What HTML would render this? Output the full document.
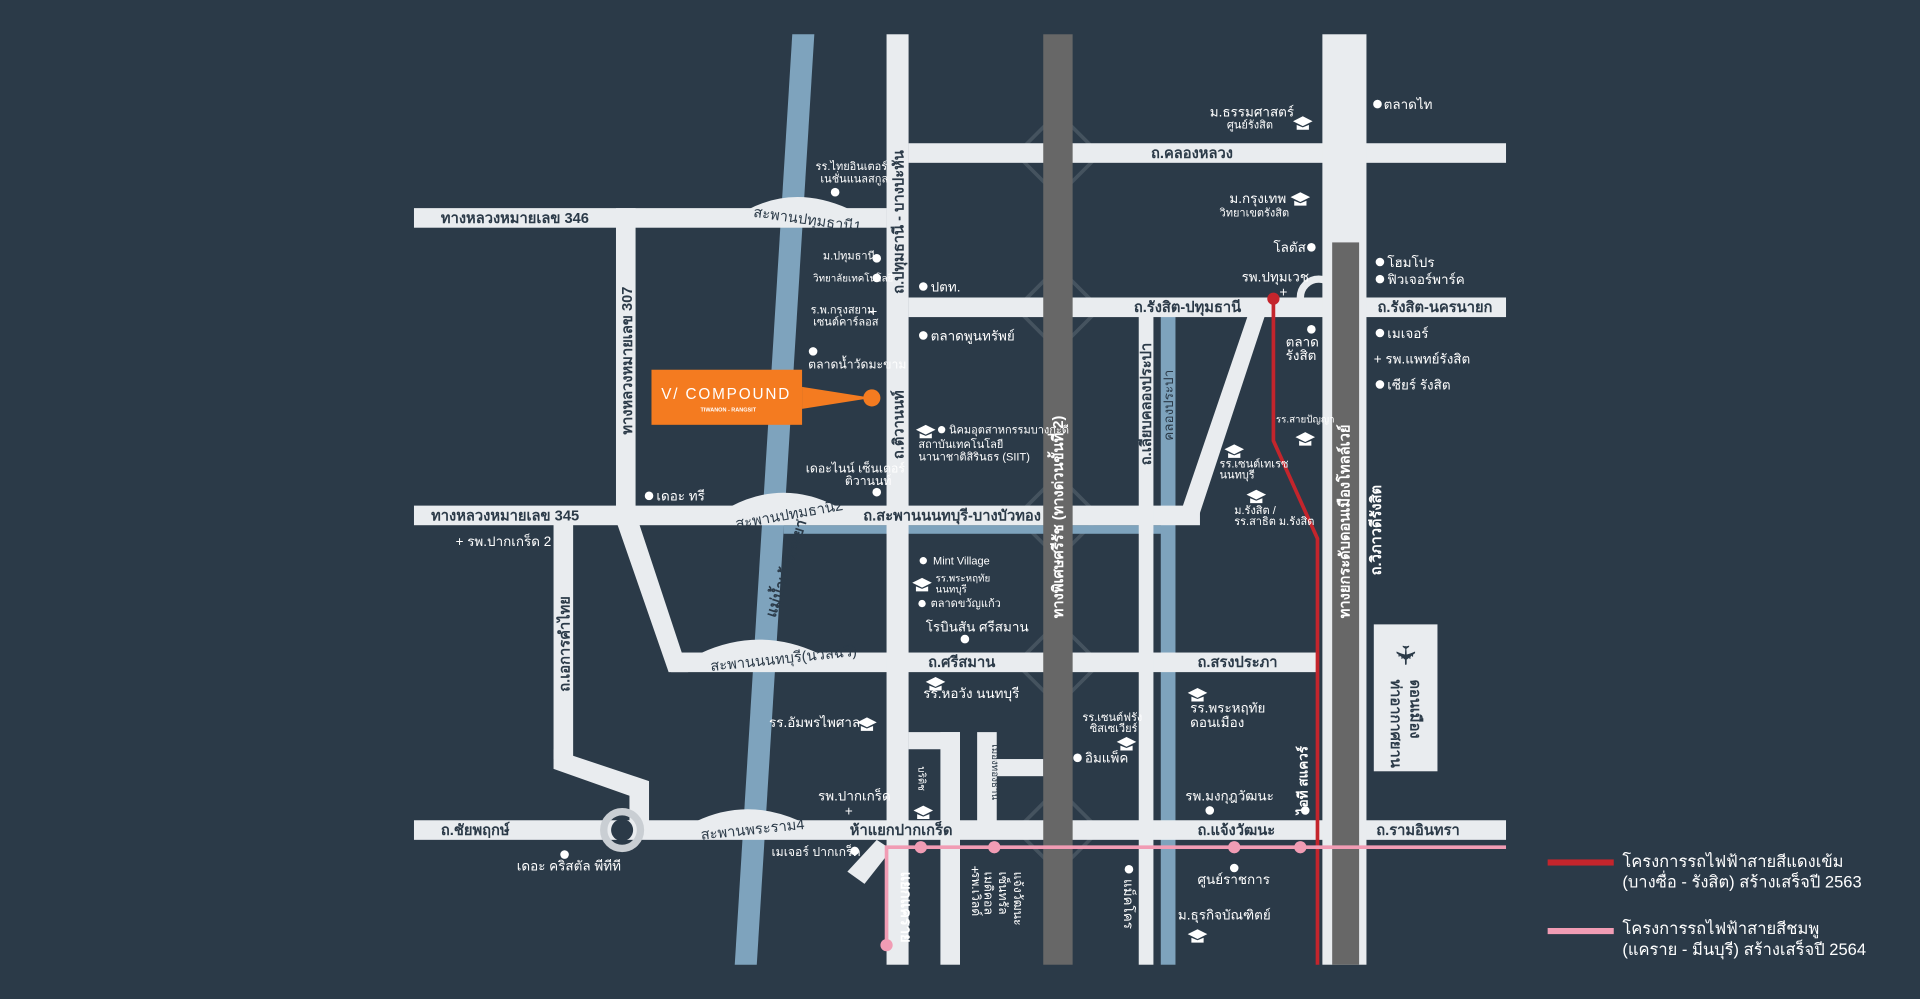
<!DOCTYPE html>
<html><head><meta charset="utf-8"><style>
html,body{margin:0;padding:0;background:#2b3a48;}
svg{display:block}
text{font-family:"Liberation Sans","DejaVu Sans",sans-serif;fill:#fff;}
.d{fill:#2b3a48}
</style></head><body>
<svg width="1920" height="999" viewBox="0 0 1568 816" xmlns="http://www.w3.org/2000/svg">
<rect width="1568" height="816" fill="#2b3a48"/>
<!-- diamonds (behind) -->
<g fill="none" stroke="#45535f" stroke-width="3">
<polygon points="864,92 898,126 864,160 830,126"/>
<polygon points="864,218 898,252 864,286 830,252"/>
<polygon points="864,388 898,422 864,456 830,422"/>
<polygon points="864,508 898,542 864,576 830,542"/>
<polygon points="864,644 898,678 864,712 830,678"/>
</g>
<!-- river -->
<polygon points="647,28 665,28 618,788 600,788" fill="#7ea3bd"/>
<!-- canal -->
<rect x="948" y="258" width="12" height="530" fill="#7ea3bd"/>
<rect x="640" y="429" width="310" height="7" fill="#7ea3bd"/>
<g fill="#e9ecef">
<rect x="742" y="117" width="488" height="16"/>
<rect x="338" y="170" width="386" height="16"/>
<rect x="742" y="243" width="488" height="16"/>
<rect x="338" y="413" width="642" height="16"/>
<rect x="548" y="533" width="528" height="16"/>
<rect x="338" y="670" width="892" height="16"/>
<rect x="724" y="28" width="18" height="760"/>
<rect x="1080" y="28" width="36" height="760"/>
<rect x="503" y="170" width="16" height="250"/>
<rect x="930" y="258" width="12" height="530"/>
<rect x="452" y="425" width="16" height="195"/>
<polygon points="452,612 530,638 530,672 514,672 514,650 452,628"/>
<polygon points="503,425 521,425 562,549 546,549"/>
<polygon points="1020,255 1034,255 978,425 962,425"/>
<rect x="768" y="598" width="16" height="190"/>
<rect x="742" y="598" width="42" height="14"/>
<rect x="798" y="598" width="16" height="75"/>
<rect x="814" y="620" width="38" height="14"/>
<polygon points="716,686 728,694 706,722 692,712"/>
</g>
<circle cx="508" cy="678" r="15" fill="none" stroke="#c9ced3" stroke-width="6"/>
<circle cx="508" cy="678" r="9" class="d"/>
<path d="M1062,243 A14,14 0 0 1 1092,243" fill="none" stroke="#e9ecef" stroke-width="6"/>
<!-- tollways -->
<rect x="852" y="28" width="24" height="760" fill="#676767"/>
<rect x="1088" y="198" width="22" height="590" fill="#676767"/>
<!-- red line -->
<polyline points="1040,243 1040,360 1076,440 1076,788" fill="none" stroke="#c4252c" stroke-width="3"/>
<circle cx="1040" cy="244" r="5" fill="#c4252c"/>
<!-- pink line -->
<polyline points="1230,692 724,692 724,772" fill="none" stroke="#f19cb4" stroke-width="3"/>
<g fill="#f19cb4"><circle cx="752" cy="692" r="5"/><circle cx="812" cy="692" r="5"/><circle cx="1008" cy="692" r="5"/><circle cx="1062" cy="692" r="5"/><circle cx="724" cy="772" r="5"/></g>
<!-- bridges -->
<g fill="none" stroke="#e9ecef" stroke-width="16">
<path d="M615,178 Q650,160 690,178"/>
<path d="M600,421 Q640,400 680,421"/>
<path d="M575,541 Q620,520 665,541"/>
<path d="M572,678 Q610,660 650,678"/>
</g>
<g font-size="12">
<text x="615" y="182" transform="rotate(8 650 178)" style="fill:#2b3a48">สะพานปทุมธานี1</text>
<text x="600" y="425" transform="rotate(-10 640 421)" style="fill:#2b3a48">สะพานปทุมธานี2</text>
<text x="580" y="544" transform="rotate(-6 620 541)" style="fill:#2b3a48">สะพานนนทบุรี(นวลฉวี)</text>
<text x="572" y="682" transform="rotate(-6 610 678)" style="fill:#2b3a48">สะพานพระราม4</text>
</g>
<g font-size="12" style="font-weight:bold">
<text x="360" y="182" style="fill:#2b3a48">ทางหลวงหมายเลข 346</text>
<text x="352" y="425" style="fill:#2b3a48">ทางหลวงหมายเลข 345</text>
<text x="360" y="682" style="fill:#2b3a48">ถ.ชัยพฤกษ์</text>
<text x="940" y="129" style="fill:#2b3a48">ถ.คลองหลวง</text>
<text x="926" y="255" style="fill:#2b3a48">ถ.รังสิต-ปทุมธานี</text>
<text x="1125" y="255" style="fill:#2b3a48">ถ.รังสิต-นครนายก</text>
<text x="705" y="425" style="fill:#2b3a48">ถ.สะพานนนทบุรี-บางบัวทอง</text>
<text x="758" y="545" style="fill:#2b3a48">ถ.ศรีสมาน</text>
<text x="978" y="545" style="fill:#2b3a48">ถ.สรงประภา</text>
<text x="694" y="682" style="fill:#2b3a48">ห้าแยกปากเกร็ด</text>
<text x="978" y="682" style="fill:#2b3a48">ถ.แจ้งวัฒนะ</text>
<text x="1124" y="682" style="fill:#2b3a48">ถ.รามอินทรา</text>
<text transform="translate(516,355) rotate(-90)" style="fill:#2b3a48">ทางหลวงหมายเลข 307</text>
<text transform="translate(465,565) rotate(-90)" style="fill:#2b3a48">ถ.เอการคำไทย</text>
<text transform="translate(738,240) rotate(-90)" style="fill:#2b3a48">ถ.ปทุมธานี - บางปะหัน</text>
<text transform="translate(738,375) rotate(-90)" style="fill:#2b3a48">ถ.ติวานนท์</text>
<text transform="translate(940,380) rotate(-90)" style="fill:#2b3a48">ถ.เลียบคลองประปา</text>
<text transform="translate(1102,505) rotate(-90)" style="fill:#fff">ทางยกระดับดอนเมืองโทลล์เวย์</text>
<text transform="translate(868,505) rotate(-90)" style="fill:#fff">ทางพิเศษศรีรัช (ทางด่วนขั้นที่ 2)</text>
<text transform="translate(958,360) rotate(-90)" font-size="11" style="fill:#2b3a48;font-weight:normal">คลองประปา</text>
<text transform="translate(633,505) rotate(-72)" style="fill:#2b3a48">แม่น้ำเจ้าพระยา</text>
<text transform="translate(1128,470) rotate(-90)">ถ.วิภาวดีรังสิต</text>
<text transform="translate(736,712) rotate(90)">แยกแคราย</text>
<text transform="translate(1068,665) rotate(-90)" font-size="11">ไอที สแควร์</text>
</g>
<g font-size="11">
<text x="1130" y="89">ตลาดไท</text><circle cx="1125" cy="85" r="3.5" fill="#fff"/>
<text x="988" y="95">ม.ธรรมศาสตร์</text><text x="1002" y="105" font-size="9">ศูนย์รังสิต</text>
<text x="1004" y="166">ม.กรุงเทพ</text><text x="996" y="177" font-size="9">วิทยาเขตรังสิต</text>
<text x="1040" y="206">โลตัส</text><circle cx="1071" cy="202" r="3.5" fill="#fff"/>
<text x="1014" y="230">รพ.ปทุมเวช</text><text x="1045" y="242">+</text>
<text x="1133" y="218">โฮมโปร</text><circle cx="1127" cy="214" r="3.5" fill="#fff"/>
<text x="1133" y="232">ฟิวเจอร์พาร์ค</text><circle cx="1127" cy="228" r="3.5" fill="#fff"/>
<text x="1133" y="276">เมเจอร์</text><circle cx="1127" cy="272" r="3.5" fill="#fff"/>
<text x="1122" y="297">+ รพ.แพทย์รังสิต</text>
<text x="1133" y="318">เซียร์ รังสิต</text><circle cx="1127" cy="314" r="3.5" fill="#fff"/>
<circle cx="1071" cy="269" r="3.5" fill="#fff"/><text x="1050" y="283">ตลาด</text><text x="1050" y="294">รังสิต</text>
<text x="1042" y="345" font-size="8">รร.สายปัญญา</text>
<text x="996" y="382" font-size="9">รร.เซนต์เทเรซ</text><text x="996" y="391" font-size="9">นนทบุรี</text>
<text x="1008" y="420" font-size="9">ม.รังสิต /</text><text x="1008" y="429" font-size="9">รร.สาธิต ม.รังสิต</text>
<text x="666" y="139" font-size="9">รร.ไทยอินเตอร์</text><text x="670" y="149" font-size="9">เนชั่นแนลสกูล</text>
<circle cx="682" cy="157" r="3.5" fill="#fff"/>
<text x="672" y="212" font-size="9">ม.ปทุมธานี</text><circle cx="716" cy="211" r="3.5" fill="#fff"/>
<text x="664" y="230" font-size="8">วิทยาลัยเทคโนโลยี</text><circle cx="716" cy="227" r="3.5" fill="#fff"/>
<text x="662" y="256" font-size="9">ร.พ.กรุงสยาม</text><text x="664" y="266" font-size="9">เซนต์คาร์ลอส</text><text x="710" y="258">+</text>
<circle cx="664" cy="287" r="3.5" fill="#fff"/><text x="660" y="301" font-size="10">ตลาดน้ำวัดมะขาม</text>
<text x="760" y="238">ปตท.</text><circle cx="754" cy="234" r="3.5" fill="#fff"/>
<text x="760" y="278">ตลาดพูนทรัพย์</text><circle cx="754" cy="274" r="3.5" fill="#fff"/>
<text x="775" y="354" font-size="9">นิคมอุตสาหกรรมบางกะดี</text><circle cx="769" cy="351" r="3" fill="#fff"/>
<text x="750" y="366" font-size="9">สถาบันเทคโนโลยี</text><text x="750" y="376" font-size="9">นานาชาติสิรินธร (SIIT)</text>
<text x="658" y="386" font-size="10">เดอะไนน์ เซ็นเตอร์</text><text x="690" y="396" font-size="10">ติวานนท์</text><circle cx="716" cy="402" r="3.5" fill="#fff"/>
<text x="536" y="409">เดอะ ทรี</text><circle cx="530" cy="405" r="3.5" fill="#fff"/>
<text x="372" y="446">+ รพ.ปากเกร็ด 2</text>
<text x="762" y="461" font-size="9">Mint Village</text><circle cx="754" cy="458" r="3" fill="#fff"/>
<text x="764" y="475" font-size="8">รร.พระหฤทัย</text><text x="764" y="484" font-size="8">นนทบุรี</text>
<text x="760" y="496" font-size="9">ตลาดขวัญแก้ว</text><circle cx="753" cy="493" r="3" fill="#fff"/>
<text x="756" y="516">โรบินสัน ศรีสมาน</text><circle cx="788" cy="522" r="3.5" fill="#fff"/>
<text x="754" y="570">รร.หอวัง นนทบุรี</text>
<text x="628" y="594">รร.อัมพรไพศาล</text>
<text x="972" y="582">รร.พระหฤทัย</text><text x="972" y="594">ดอนเมือง</text>
<text x="884" y="589" font-size="9">รร.เซนต์ฟรัง</text><text x="890" y="598" font-size="9">ซิสเซเวียร์</text>
<text x="886" y="623">อิมแพ็ค</text><circle cx="880" cy="619" r="3.5" fill="#fff"/>
<text x="968" y="654">รพ.มงกุฎวัฒนะ</text><circle cx="988" cy="662" r="3.5" fill="#fff"/>
<circle cx="1066" cy="662" r="3.5" fill="#fff"/>
<text x="668" y="654">รพ.ปากเกร็ด</text><text x="690" y="666">+</text>
<text x="630" y="699" font-size="10">เมเจอร์ ปากเกร็ด</text><circle cx="698" cy="695" r="3.5" fill="#fff"/>
<circle cx="461" cy="698" r="3.5" fill="#fff"/><text x="422" y="711">เดอะ คริสตัล พีทีที</text>
<circle cx="1008" cy="709" r="3.5" fill="#fff"/><text x="978" y="722">ศูนย์ราชการ</text>
<text x="962" y="751">ม.ธุรกิจบัณฑิตย์</text>
<circle cx="922" cy="710" r="3.5" fill="#fff"/>
<text transform="translate(918,718) rotate(90)">แม็คโคร</text>
<text transform="translate(794,712) rotate(90)" font-size="10">รพ.เวิลด์</text>
<text transform="translate(804,712) rotate(90)" font-size="10">เมดิคอล</text>
<text transform="translate(816,712) rotate(90)" font-size="10">เซ็นทรัล</text>
<text transform="translate(828,712) rotate(90)" font-size="10">แจ้งวัฒนะ</text>
<text x="793" y="714">+</text>
<text transform="translate(810,608) rotate(90)" font-size="8" style="fill:#2b3a48">เมืองทองธานี</text>
<text transform="translate(750,626) rotate(90)" font-size="8">บริติช</text>
</g>
<g fill="#fff">
<path d="M1056,99 l8,-4 l8,4 l-8,4 z M1059,102 v4 h10 v-4 l-5,2 z"/>
<path d="M1054,161 l8,-4 l8,4 l-8,4 z M1057,164 v4 h10 v-4 l-5,2 z"/>
<path d="M1058,357 l8,-4 l8,4 l-8,4 z M1061,360 v4 h10 v-4 l-5,2 z"/>
<path d="M1000,367 l8,-4 l8,4 l-8,4 z M1003,370 v4 h10 v-4 l-5,2 z"/>
<path d="M1018,404 l8,-4 l8,4 l-8,4 z M1021,407 v4 h10 v-4 l-5,2 z"/>
<path d="M748,351 l8,-4 l8,4 l-8,4 z M751,354 v4 h10 v-4 l-5,2 z"/>
<path d="M745,476 l8,-4 l8,4 l-8,4 z M748,479 v4 h10 v-4 l-5,2 z"/>
<path d="M756,557 l8,-4 l8,4 l-8,4 z M759,560 v4 h10 v-4 l-5,2 z"/>
<path d="M700,590 l8,-4 l8,4 l-8,4 z M703,593 v4 h10 v-4 l-5,2 z"/>
<path d="M970,566 l8,-4 l8,4 l-8,4 z M973,569 v4 h10 v-4 l-5,2 z"/>
<path d="M912,606 l8,-4 l8,4 l-8,4 z M915,609 v4 h10 v-4 l-5,2 z"/>
<path d="M746,662 l8,-4 l8,4 l-8,4 z M749,665 v4 h10 v-4 l-5,2 z"/>
<path d="M970,763 l8,-4 l8,4 l-8,4 z M973,766 v4 h10 v-4 l-5,2 z"/>
</g>
<rect x="1122" y="510" width="52" height="120" fill="#e9ecef"/>
<text x="1137" y="545" font-size="22" style="fill:#2b3a48" transform="rotate(90 1148 537)">✈</text>
<text transform="translate(1136,555) rotate(90)" font-size="12" style="fill:#2b3a48;font-weight:bold">ท่าอากาศยาน</text>
<text transform="translate(1152,555) rotate(90)" font-size="12" style="fill:#2b3a48;font-weight:bold">ดอนเมือง</text>
<rect x="532" y="302" width="123" height="45" fill="#f47b20"/>
<polygon points="655,316 712,325 655,334" fill="#f47b20"/>
<circle cx="712" cy="325" r="7" fill="#f47b20"/>
<text x="540" y="326" font-size="12.5" style="letter-spacing:1.5px">V/ COMPOUND</text>
<text x="572" y="336" font-size="4.5" style="font-weight:bold">TIWANON - RANGSIT</text>
<rect x="1264" y="702" width="54" height="5" fill="#c4252c"/>
<rect x="1264" y="758" width="54" height="5" fill="#f19cb4"/>
<g font-size="13.5">
<text x="1325" y="708">โครงการรถไฟฟ้าสายสีแดงเข้ม</text>
<text x="1325" y="725">(บางซื่อ - รังสิต) สร้างเสร็จปี 2563</text>
<text x="1325" y="763">โครงการรถไฟฟ้าสายสีชมพู</text>
<text x="1325" y="780">(แคราย - มีนบุรี) สร้างเสร็จปี 2564</text>
</g>
</svg>
</body></html>
